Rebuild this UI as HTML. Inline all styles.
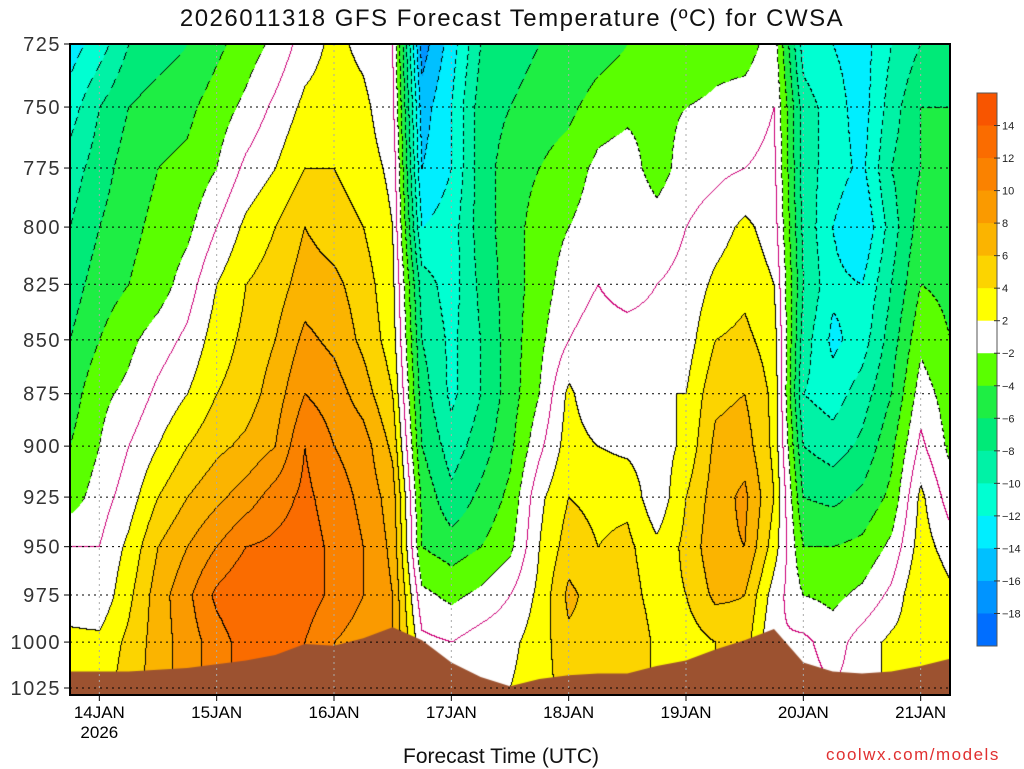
<!DOCTYPE html>
<html><head><meta charset="utf-8">
<style>
body{margin:0;background:#fff;width:1024px;height:768px;overflow:hidden;position:relative;font-family:"Liberation Sans",sans-serif}
#plot{position:absolute;left:70px;top:44px}
svg{position:absolute;left:0;top:0}
</style></head>
<body>
<canvas id="plot" width="880" height="651"></canvas>
<svg id="ov" width="1024" height="768"></svg>
<script>
const times=["13/18","14/00","14/06","14/12","14/18","15/00","15/06","15/12","15/18","16/00","16/06","16/12","16/18","17/00","17/06","17/12","17/18","18/00","18/06","18/12","18/18","19/00","19/06","19/12","19/18","20/00","20/06","20/12","20/18","21/00","21/06"];
const levels=[725,750,775,800,825,850,875,900,925,950,975,1000,1025];
// temperature per time step, columns ordered by levels above
const temps=[
[-13,-11,-9,-8,-7,-6,-5,-4,-3,0,1,2.5,3],
[-11,-8,-7,-6,-5,-4,-2.5,-2,-1,0,0.5,2.5,3],
[-8,-6,-5,-4.5,-4,-2.5,-1.5,0,1,2.5,3.5,4.5,5],
[-7,-5,-4,-3.5,-3,-1,0.5,2,4,6,7,7,7],
[-6,-4.5,-3.5,-2.5,-1,0.5,2,4,6,8,9.5,9,9],
[-4.5,-3,-2,0,2,3,4,5.5,7.5,10,12.5,11,11],
[-3,-1.5,0.5,2.5,4,4.5,5,6.5,9,12,14,13,13],
[-1.5,0.5,2,4,5,6,7,8,11,12.5,14,13,13],
[1,2.5,4,6,7,8.5,10,12,12.5,13,13,12,12],
[2.5,3,4,5,6.5,7.5,9,10,11,11.5,11.5,10,10],
[1.5,2.5,3,4,5,5.5,7,9,9.5,10,10,9,9],
[0,0.5,1.5,2,2.5,3,4,5.5,7,7.5,8,8,8],
[-17,-15,-14,-12,-9,-8,-7,-6,-4.5,-4,-1.5,0.5,1],
[-13,-12,-12,-11,-11,-10.5,-10.5,-9,-7.5,-5,-2.5,0,1],
[-8,-7,-7,-7,-7.5,-8,-8,-7,-5.5,-4,-1.5,1,2],
[-7,-6,-5,-5,-5,-5,-5,-4.5,-3.5,-2.5,0,1.5,2],
[-6,-5,-4,-3,-3,-2.5,-2,-0.5,1.5,2,2.5,3,3],
[-6,-4.5,-3,-2,-1,0,2.5,3,4,5,6.5,5.5,5],
[-5,-3,-1.5,-1,0,1,0,2,3.5,4,5,5.5,5],
[-4,-2.5,-1,0,-1,1,1.5,1.5,3.5,4.5,5,6,6],
[-3,-2.5,-3,-1,0,1,2,1,0.5,2.5,3,3.5,3.5],
[-4,-2,-1,0,0.5,1,2,2.5,4,4.5,4,3,3],
[-3,-1.5,-0.5,1,2.5,4,5.5,6.5,7,7.5,6.5,4,4],
[-3,-1,0,2.5,3.5,4.5,6,7,8.5,8,6,5,5],
[-1,0,0.5,1,2,3,3.5,3.5,4,3,1,0,0],
[-11,-9,-9,-8.5,-8,-9,-10,-8,-6,-4,-2,0.5,1],
[-12,-11,-11,-12,-11.5,-12.5,-11,-9,-6.5,-4,-2.5,-1,0],
[-13,-13,-12.5,-14,-12,-11,-9,-7.5,-5.5,-3.5,-1.5,1,1],
[-10,-9,-8,-9,-8,-7,-6,-4.5,-3.5,-1.5,0.5,2.5,2.5],
[-8,-6,-6,-5,-4,-2.5,-1,0.5,2.5,3,4,3,3],
[-7,-6,-6,-5,-4.5,-4,-3,-2.5,-1,1,2.5,2.5,2.5]];
const surfP=[1016,1016,1016,1015,1014,1012,1010,1007,1001,1002,998,992,999,1011,1019,1024,1020,1018,1017,1017,1013,1010,1004,999,993,1011,1016,1017,1016,1013,1009];
const bounds=[14,12,10,8,6,4,2,-2,-4,-6,-8,-10,-12,-14,-16,-18];
const bandLabels=["14","12","10","8","6","4","2","−2","−4","−6","−8","−10","−12","−14","−16","−18"];
const dayLabels=["14JAN","15JAN","16JAN","17JAN","18JAN","19JAN","20JAN","21JAN"];
const colors=["#f85500","#fa6c00","#fa8200","#fa9a00","#fbb400","#fcd400","#ffff00","#ffffff","#5aff00","#1eee44","#00ea78","#00f2a6","#00ffd2","#00eeff","#00c0ff","#0094ff","#006eff"];

const L=70,T=44,W=880,H=651,LN=Math.log(1025/725),PH=644;
const dx=W/(times.length-1);
function xOf(i){return L+i*dx;}
function yOfP(p){return T+Math.log(p/725)/LN*PH;}
function band(t){let k=0;for(const b of bounds){if(t<b)k++;}return k;}
function hex(c){return [parseInt(c.substr(1,2),16),parseInt(c.substr(3,2),16),parseInt(c.substr(5,2),16)];}
const rgb=colors.map(hex);

const cv=document.getElementById('plot'),ctx=cv.getContext('2d');
const img=ctx.createImageData(W,H);
const B=new Int8Array(W*H),S=new Int8Array(W*H);
for(let py=0;py<H;py++){
  const p=725*Math.exp(py/PH*LN);
  let r=(p-725)/25; if(r>12)r=12; const r0=Math.min(11,Math.floor(r)),fr=r-r0;
  for(let px=0;px<W;px++){
    let c=px/dx; const c0=Math.min(times.length-2,Math.floor(c)),fc=c-c0;
    const a=temps[c0][r0]*(1-fr)+temps[c0][r0+1]*fr;
    const b=temps[c0+1][r0]*(1-fr)+temps[c0+1][r0+1]*fr;
    const t=a*(1-fc)+b*fc;
    B[py*W+px]=band(t); S[py*W+px]=t<0?-1:1;
  }
}
for(let py=0;py<H;py++)for(let px=0;px<W;px++){
  const i=py*W+px,k=B[i];let c=rgb[k];
  const rb=px<W-1?B[i+1]:k,db=py<H-1?B[i+W]:k;
  const rs=px<W-1?S[i+1]:S[i],ds=py<H-1?S[i+W]:S[i];
  if(rs!==S[i]||ds!==S[i]) c=[204,0,119];
  else if(rb!==k||db!==k){
    const neg=Math.max(k,rb,db)>=8;
    if(!neg||((px+py)%8)<5) c=[0,0,0];
  }
  img.data[i*4]=c[0];img.data[i*4+1]=c[1];img.data[i*4+2]=c[2];img.data[i*4+3]=255;
}
ctx.putImageData(img,0,0);
// terrain
ctx.fillStyle="#9c5230";ctx.beginPath();ctx.moveTo(0,H);
surfP.forEach((p,i)=>ctx.lineTo(xOf(i)-L,yOfP(p)-T));
ctx.lineTo(W,H);ctx.closePath();ctx.fill();

const NS="http://www.w3.org/2000/svg",ov=document.getElementById('ov');
function el(tag,attrs,txt){const e=document.createElementNS(NS,tag);for(const k in attrs)e.setAttribute(k,attrs[k]);if(txt!==undefined)e.textContent=txt;ov.appendChild(e);return e;}
levels.forEach(p=>{
  const y=yOfP(p);
  const g=el('line',{x1:L,x2:L+W,y1:y,y2:y,stroke:'#000','stroke-width':1,'stroke-dasharray':'2,4'});
  
  
  const t=el('text',{x:61,y:y+7,'text-anchor':'end','font-size':20,fill:'#333','letter-spacing':'1.5'},String(p));
  
  
  el('line',{x1:64,x2:L,y1:y,y2:y,stroke:'#000','stroke-width':1});
});
dayLabels.forEach((d,i)=>{
  const x=xOf(1+i*4);
  const g=el('line',{x1:x,x2:x,y1:T,y2:T+H,stroke:'#aaa','stroke-width':1,'stroke-dasharray':'2,4'});
  
  
  el('line',{x1:x,x2:x,y1:T+H,y2:T+H+6,stroke:'#000','stroke-width':1});
  const t=el('text',{x:x,y:718,'text-anchor':'middle','font-size':17,fill:'#000'},d);
  
  
});
const yr=el('text',{x:xOf(1),y:738,'text-anchor':'middle','font-size':17,fill:'#000'},'2026');


const fr=el('rect',{x:L,y:T,width:W,height:H,fill:'none',stroke:'#000','stroke-width':2});


const cbT=93,cbH=553,bh=cbH/colors.length;
colors.forEach((c,i)=>{
  const r=el('rect',{x:977,y:cbT+i*bh,width:20,height:bh+0.5,fill:c});
  
  
});
el('rect',{x:977,y:cbT,width:20,height:cbH,fill:'none',stroke:'#555','stroke-width':1});
bandLabels.forEach((l,i)=>{
  const y=cbT+(i+1)*bh;
  el('line',{x1:994,x2:1000,y1:y,y2:y,stroke:'#333'});
  const t=el('text',{x:1002,y:y+4,'font-size':11,fill:'#222'},l);
  
  
});
</script>
<div style="position:absolute;left:0;width:1024px;top:5px;text-align:center;font-size:24px;letter-spacing:1.5px;color:#111">2026011318 GFS Forecast Temperature (ºC) for CWSA</div>
<div style="position:absolute;left:403px;top:745px;font-size:21px;color:#111">Forecast Time (UTC)</div>
<div style="position:absolute;left:826px;top:745px;font-size:17px;letter-spacing:1.5px;color:#e03030">coolwx.com/models</div>
</body></html>
